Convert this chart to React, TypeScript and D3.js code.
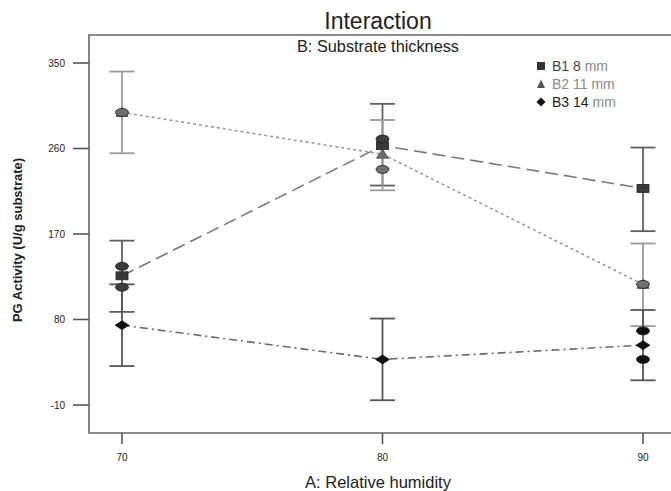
import React from "react";
import * as d3 from "d3";

const humidity = [70, 80, 90];
const seriesNames = ["B1", "B2", "B3"];
const seriesSizes = ["8", "11", "14"];
const b1Pred = [126, 263, 218];
const b2Pred = [298, 254, 117];
const b3Pred = [74, 38, 53];
const b1Low = [88, 221, 173];
const b1High = [163, 307, 261];
const b2Low = [255, 216, 73];
const b2High = [341, 290, 160];
const b3Low = [31, -5, 16];
const b3High = [117, 81, 90];
const b1ObsX = [70, 70, 80];
const b1ObsY = [136, 114, 270];
const b2ObsX = [70, 80, 90];
const b2ObsY = [298, 238, 117];
const b3ObsX = [90, 90];
const b3ObsY = [68, 38];
const yTicks = [-10, 80, 170, 260, 350];
const xTicks = [70, 80, 90];

const W = 671;
const H = 491;
const FONT = "'Liberation Sans', Arial, sans-serif";

export default function App() {
  const x = d3.scaleLinear().domain([70, 90]).range([122, 643]);
  const y = d3.scaleLinear().domain([-10, 350]).range([405, 63]);
  const left = 89;
  const top = 35;
  const bottom = 433;
  const right = 676;

  const series = [
    { pred: b1Pred, low: b1Low, high: b1High, line: "#7a7a7a", dash: "13,6", bar: "#606060", fill: "#3a3a3a", shape: "square" },
    { pred: b2Pred, low: b2Low, high: b2High, line: "#9a9a9a", dash: "3,3", bar: "#9a9a9a", fill: "#6e6e6e", shape: "triangle" },
    { pred: b3Pred, low: b3Low, high: b3High, line: "#6a6a6a", dash: "8,4,2,4", bar: "#555555", fill: "#111111", shape: "diamond" },
  ];
  const obs = [
    { xs: b1ObsX, ys: b1ObsY, fill: "#3c3c3c" },
    { xs: b2ObsX, ys: b2ObsY, fill: "#707070" },
    { xs: b3ObsX, ys: b3ObsY, fill: "#111111" },
  ];

  const lineGen = d3
    .line<number>()
    .x((_, i) => x(humidity[i]))
    .y((d) => y(d));

  const marker = (shape: string, cx: number, cy: number, fill: string, key: string) => {
    if (shape === "square")
      return <rect key={key} x={cx - 6} y={cy - 4} width={12} height={8} fill={fill} stroke="#222" strokeWidth={0.8} />;
    if (shape === "triangle")
      return <path key={key} d={`M${cx},${cy - 5}L${cx + 6},${cy + 4}L${cx - 6},${cy + 4}Z`} fill={fill} stroke="#444" strokeWidth={0.8} />;
    return <path key={key} d={`M${cx},${cy - 4.5}L${cx + 7},${cy}L${cx},${cy + 4.5}L${cx - 7},${cy}Z`} fill={fill} stroke="#000" strokeWidth={0.6} />;
  };

  const legendY = [66, 84, 102];
  const legendShapes = ["square", "triangle", "diamond"];
  const legendMain = ["#444", "#8a8a8a", "#1a1a1a"];

  return (
    <svg width={W} height={H} style={{ position: "absolute", left: 0, top: 0, background: "#fff" }} fontFamily={FONT}>
      <rect x={0} y={0} width={W} height={H} fill="#fff" />
      <text x={378} y={29} textAnchor="middle" fontSize={23} fill="#222">Interaction</text>
      <text x={378} y={52} textAnchor="middle" fontSize={16.3} fill="#222">B: Substrate thickness</text>

      {/* frame */}
      <path d={`M${right},${top}H${left}V${bottom}H${right}`} fill="none" stroke="#666" strokeWidth={1.6} />

      {/* y ticks */}
      {yTicks.map((t) => (
        <g key={"y" + t}>
          <line x1={73} x2={left} y1={y(t)} y2={y(t)} stroke="#555" strokeWidth={1.6} />
          <text x={65} y={y(t) + 3.5} textAnchor="end" fontSize={10} fill="#222">{t}</text>
        </g>
      ))}
      {/* x ticks */}
      {xTicks.map((t) => (
        <g key={"x" + t}>
          <line x1={x(t)} x2={x(t)} y1={bottom} y2={444} stroke="#555" strokeWidth={1.6} />
          <text x={x(t)} y={461} textAnchor="middle" fontSize={10} fill="#222">{t}</text>
        </g>
      ))}

      <text x={378} y={488} textAnchor="middle" fontSize={16.5} fill="#222">A: Relative humidity</text>
      <text transform={`translate(22,240) rotate(-90)`} textAnchor="middle" fontSize={13} fontWeight="bold" fill="#222">
        PG Activity (U/g substrate)
      </text>

      {/* lines */}
      {series.map((s, i) => (
        <path key={"l" + i} d={lineGen(s.pred) || ""} fill="none" stroke={s.line} strokeWidth={1.6} strokeDasharray={s.dash} />
      ))}

      {/* error bars */}
      {series.map((s, i) =>
        humidity.map((h, j) => (
          <g key={`e${i}-${j}`} stroke={s.bar} strokeWidth={1.8}>
            <line x1={x(h)} x2={x(h)} y1={y(s.low[j])} y2={y(s.high[j])} />
            <line x1={x(h) - 12.5} x2={x(h) + 12.5} y1={y(s.low[j])} y2={y(s.low[j])} />
            <line x1={x(h) - 12.5} x2={x(h) + 12.5} y1={y(s.high[j])} y2={y(s.high[j])} />
          </g>
        ))
      )}

      {/* predicted markers */}
      {series.map((s, i) => humidity.map((h, j) => marker(s.shape, x(h), y(s.pred[j]), s.fill, `m${i}-${j}`)))}

      {/* observed design points */}
      {obs.map((o, i) =>
        o.xs.map((xv, j) => (
          <ellipse key={`o${i}-${j}`} cx={x(xv)} cy={y(o.ys[j])} rx={6.5} ry={4} fill={o.fill} stroke="#222" strokeWidth={0.8} />
        ))
      )}

      {/* legend */}
      {seriesNames.map((n, i) => (
        <g key={"lg" + i}>
          {legendShapes[i] === "square" && <rect x={537} y={legendY[i] - 4} width={8} height={8} fill="#333" />}
          {legendShapes[i] === "triangle" && (
            <path d={`M541,${legendY[i] - 4.5}L545,${legendY[i] + 4}L537,${legendY[i] + 4}Z`} fill="#555" />
          )}
          {legendShapes[i] === "diamond" && (
            <path d={`M541,${legendY[i] - 4.5}L545.5,${legendY[i]}L541,${legendY[i] + 4.5}L536.5,${legendY[i]}Z`} fill="#111" />
          )}
          <text x={552} y={legendY[i] + 5} fontSize={14} fill={legendMain[i]}>
            {n} {seriesSizes[i]}
            <tspan fill="#8a8a8a"> mm</tspan>
          </text>
        </g>
      ))}
    </svg>
  );
}
